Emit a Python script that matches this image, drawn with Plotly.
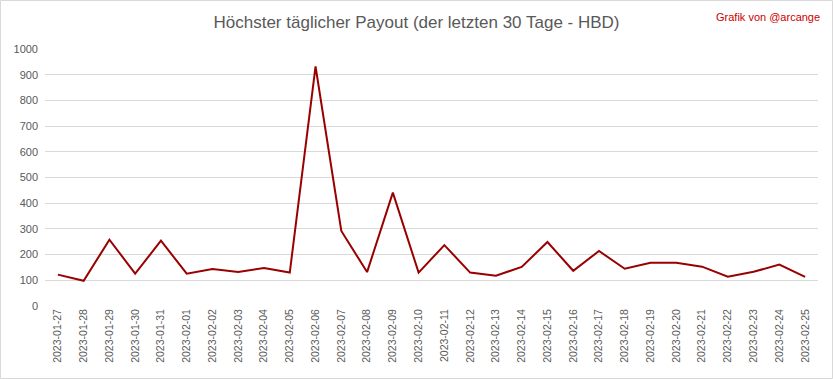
import plotly.graph_objects as go

dates = ["2023-01-27","2023-01-28","2023-01-29","2023-01-30","2023-01-31","2023-02-01","2023-02-02",
         "2023-02-03","2023-02-04","2023-02-05","2023-02-06","2023-02-07","2023-02-08","2023-02-09",
         "2023-02-10","2023-02-11","2023-02-12","2023-02-13","2023-02-14","2023-02-15","2023-02-16",
         "2023-02-17","2023-02-18","2023-02-19","2023-02-20","2023-02-21","2023-02-22","2023-02-23",
         "2023-02-24","2023-02-25"]
payout = [122, 98, 258, 126, 254, 126, 144, 132, 148, 130, 932, 292, 132, 441, 130,
          237, 130, 118, 152, 249, 137, 214, 145, 168, 168, 153, 114, 133, 161, 113]
y_ticks = [0, 100, 200, 300, 400, 500, 600, 700, 800, 900, 1000]

title_text = "Höchster täglicher Payout (der letzten 30 Tage - HBD)"
credit_text = "Grafik von @arcange"

W, H = 833, 379
ml, mr, mt, mb = 45, 15, 49, 73

fig = go.Figure()
fig.add_trace(go.Scatter(x=dates, y=payout, mode="lines",
                         line=dict(color="#990000", width=2), hoverinfo="x+y"))

pw = W - ml - mr
ph = H - mt - mb
fig.update_layout(
    width=W, height=H,
    margin=dict(l=ml, r=mr, t=mt, b=mb, autoexpand=False),
    paper_bgcolor="white", plot_bgcolor="white",
    showlegend=False,
    font=dict(family="Liberation Sans, Arial, sans-serif", color="#595959"),
    title=dict(text=title_text, x=0.5, xanchor="center", y=1 - 22 / H, yanchor="middle",
               font=dict(size=17, color="#595959", family="Liberation Sans, Arial, sans-serif")),
    xaxis=dict(type="category", tickangle=-90, tickfont=dict(size=10.5, color="#595959"),
               showgrid=False, showline=False, ticks="", zeroline=False, automargin=False,
               range=[-0.5, len(dates) - 0.5]),
    yaxis=dict(range=[0, 1000], tickvals=y_ticks, tickfont=dict(size=11, color="#595959"),
               showgrid=True, gridcolor="#d9d9d9", gridwidth=1, zeroline=False, automargin=False,
               showline=False, ticks="", ticklabelstandoff=6),
    annotations=[dict(text=credit_text, xref="paper", yref="paper",
                      x=(W - 11 - ml) / pw, y=1 + (mt - 17) / ph, xanchor="right", yanchor="middle",
                      showarrow=False, font=dict(size=11, color="#cc0000"))],
    shapes=[dict(type="rect", xref="paper", yref="paper",
                 x0=-(ml - 0.5) / pw, x1=1 + (mr - 0.5) / pw,
                 y0=-(mb - 0.5) / ph, y1=1 + (mt - 0.5) / ph,
                 line=dict(color="#d9d9d9", width=1), layer="below")],
)

fig.write_html("out.html", config={"displayModeBar": False},
               post_script="document.body.style.margin='0';document.body.style.overflow='hidden';")
